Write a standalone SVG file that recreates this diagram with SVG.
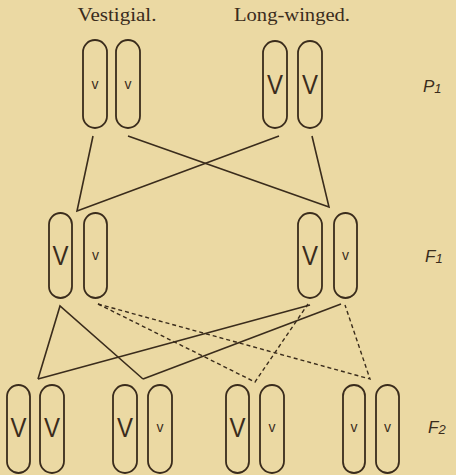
<svg xmlns="http://www.w3.org/2000/svg" width="456" height="475" viewBox="0 0 456 475">
<defs>
<style>
.bg{fill:#ebd9a3}
.chr{fill:none;stroke:#3a2c1c;stroke-width:1.8}
.big{font-family:"Liberation Sans",Arial,sans-serif;font-size:27px;fill:#3a2c1c;text-anchor:middle}
.sm{font-family:"Liberation Sans",Arial,sans-serif;font-size:14px;fill:#3a2c1c;text-anchor:middle}
.title{font-family:"Liberation Serif","Times New Roman",serif;font-size:18px;fill:#3a2c1c;text-anchor:middle}
.gen{font-family:"Liberation Sans",Arial,sans-serif;font-style:italic;font-size:17px;fill:#3a2c1c}
.solid{fill:none;stroke:#3a2c1c;stroke-width:1.6}
.dash{fill:none;stroke:#3a2c1c;stroke-width:1.4;stroke-dasharray:4 3}
</style>
</defs>
<rect class="bg" x="0" y="0" width="456" height="475"/>
<text class="title" x="117" y="21" textLength="79" lengthAdjust="spacingAndGlyphs">Vestigial.</text>
<text class="title" x="292" y="21" textLength="116" lengthAdjust="spacingAndGlyphs">Long-winged.</text>
<text class="gen" x="423" y="92">P<tspan font-size="13" dy="1">1</tspan></text>
<text class="gen" x="425" y="262">F<tspan font-size="13" dy="1">1</tspan></text>
<text class="gen" x="428" y="433">F<tspan font-size="13" dy="1">2</tspan></text>
<g id="connectors">
<polyline class="solid" points="93,136 77,211 279,136"/>
<polyline class="solid" points="128,136 329,207 312,136"/>
<polyline class="solid" points="38,379 60,306 143,379"/>
<line class="solid" x1="38" y1="379" x2="310" y2="305"/>
<line class="solid" x1="143" y1="379" x2="341" y2="304"/>
<polyline class="dash" points="98,304 255,382 308,304"/>
<polyline class="dash" points="98,304 370,379 345,305"/>
</g>
<g id="p1-vestigial">
<rect class="chr" x="83" y="40" width="24" height="88" rx="12"/>
<rect class="chr" x="116" y="40" width="24" height="88" rx="12"/>
<text class="sm" x="95" y="89">v</text>
<text class="sm" x="128" y="89">v</text>
</g>
<g id="p1-long">
<rect class="chr" x="263" y="41" width="24" height="87" rx="12"/>
<rect class="chr" x="298" y="41" width="24" height="87" rx="12"/>
<text class="big" x="275" y="94" textLength="16" lengthAdjust="spacingAndGlyphs">V</text>
<text class="big" x="310" y="94" textLength="16" lengthAdjust="spacingAndGlyphs">V</text>
</g>
<g id="f1-left">
<rect class="chr" x="49" y="213" width="23" height="85" rx="11.5"/>
<rect class="chr" x="84" y="213" width="23" height="85" rx="11.5"/>
<text class="big" x="60.5" y="265" textLength="16" lengthAdjust="spacingAndGlyphs">V</text>
<text class="sm" x="95.5" y="260">v</text>
</g>
<g id="f1-right">
<rect class="chr" x="298" y="213" width="24" height="85" rx="12"/>
<rect class="chr" x="334" y="213" width="23" height="85" rx="11.5"/>
<text class="big" x="310" y="265" textLength="16" lengthAdjust="spacingAndGlyphs">V</text>
<text class="sm" x="345.5" y="260">v</text>
</g>
<g id="f2-VV">
<rect class="chr" x="7" y="385" width="23" height="88" rx="11.5"/>
<rect class="chr" x="40" y="385" width="24" height="88" rx="12"/>
<text class="big" x="18.5" y="437" textLength="16" lengthAdjust="spacingAndGlyphs">V</text>
<text class="big" x="52" y="437" textLength="16" lengthAdjust="spacingAndGlyphs">V</text>
</g>
<g id="f2-Vv-1">
<rect class="chr" x="113" y="385" width="24" height="88" rx="12"/>
<rect class="chr" x="148" y="385" width="24" height="88" rx="12"/>
<text class="big" x="125" y="437" textLength="16" lengthAdjust="spacingAndGlyphs">V</text>
<text class="sm" x="160" y="432">v</text>
</g>
<g id="f2-Vv-2">
<rect class="chr" x="226" y="385" width="23" height="88" rx="11.5"/>
<rect class="chr" x="260" y="385" width="24" height="88" rx="12"/>
<text class="big" x="237.5" y="437" textLength="16" lengthAdjust="spacingAndGlyphs">V</text>
<text class="sm" x="272" y="432">v</text>
</g>
<g id="f2-vv">
<rect class="chr" x="343" y="385" width="22" height="88" rx="11"/>
<rect class="chr" x="376" y="385" width="23" height="88" rx="11.5"/>
<text class="sm" x="354" y="432">v</text>
<text class="sm" x="387.5" y="432">v</text>
</g>
</svg>
